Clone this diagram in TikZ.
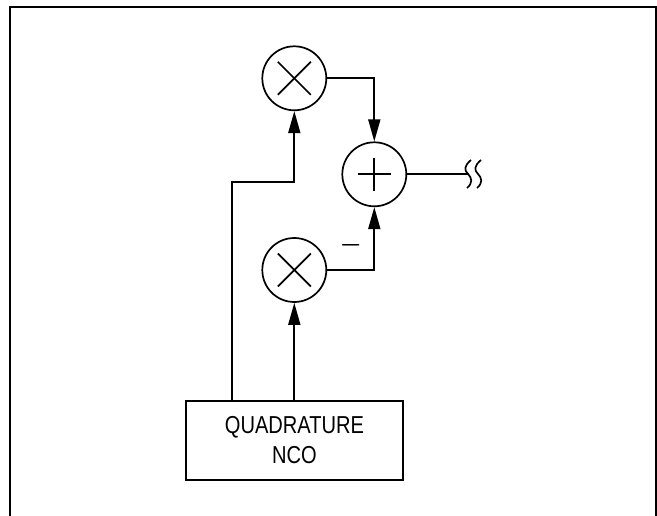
\documentclass[tikz,border=0pt]{standalone}
\usepackage{fontspec}
\newfontfamily\labfont[FakeStretch=0.82]{Liberation Sans}
\usetikzlibrary{arrows.meta,calc}
\tikzset{
  wire/.style={line width=1.7pt, line join=miter},
  arr/.style={wire, -{Triangle[length=22pt,width=12pt]}},
  opcircle/.style={circle, draw, line width=1.7pt, minimum size=64pt, inner sep=0pt},
  ncobox/.style={rectangle, draw, line width=1.7pt, minimum width=217.6pt, minimum height=79.3pt,
    align=center, font=\labfont\fontsize{24.5}{30}\selectfont},
  sym/.style={line width=1.7pt}
}
\begin{document}
\begin{tikzpicture}[x=1pt,y=-1pt]
\useasboundingbox (0,0) rectangle (657,516);
\draw[line width=2.2pt] (10,530) -- (10,7) -- (656,7) -- (656,530);

\node[opcircle] (m1) at (294.3,78.3) {};
\node[opcircle] (m2) at (294.3,270) {};
\node[opcircle] (add) at (374.3,174.3) {};
\node[ncobox] (nco) at (294.5,440.35) {QUADRATURE\\NCO};

% symbols inside circles
\draw[sym] ($(m1)+(-16.5,-16.5)$) -- ($(m1)+(16.5,16.5)$);
\draw[sym] ($(m1)+(-16.5,16.5)$) -- ($(m1)+(16.5,-16.5)$);
\draw[sym] ($(m2)+(-16.5,-16.5)$) -- ($(m2)+(16.5,16.5)$);
\draw[sym] ($(m2)+(-16.5,16.5)$) -- ($(m2)+(16.5,-16.5)$);
\draw[sym] ($(add)+(-16.5,0)$) -- ($(add)+(16.5,0)$);
\draw[sym] ($(add)+(0,-16.5)$) -- ($(add)+(0,16.5)$);

\coordinate (k) at (232,181.7);
\coordinate (out) at (469,174.3);

\draw[arr] (nco.north -| k) -- (k) -| (m1.south);
\draw[arr] (nco.north -| m2) -- (m2.south);
\draw[arr] (m1.east) -| (add.north);
\draw[arr] (m2.east) -| (add.south);
\draw[wire] (add.east) -- (out);

% break marks
\draw[sym] (471,160) .. controls (464,166) and (464,170) .. (468,174) .. controls (472,178) and (473,183) .. (467,188);
\draw[sym] (481,160) .. controls (474,166) and (474,170) .. (478,174) .. controls (482,178) and (483,183) .. (477,188);

\node[inner sep=0pt, font=\fontsize{25}{25}\selectfont\boldmath] (minus) at (350.7,245.7) {$-$};
\end{tikzpicture}
\end{document}
